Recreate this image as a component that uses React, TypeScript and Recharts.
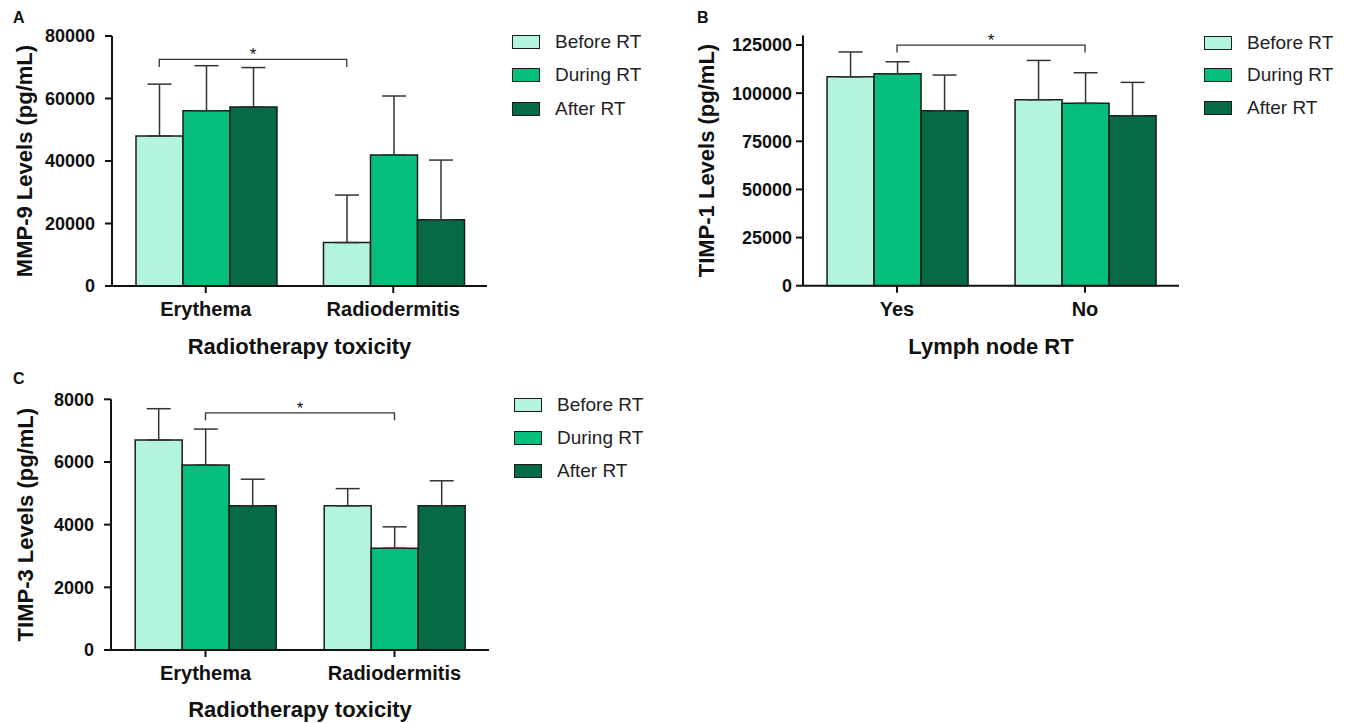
import { Bar, BarChart, ErrorBar, Legend, ReferenceLine, XAxis, YAxis } from 'recharts';

const PHASES = ['Before RT', 'During RT', 'After RT'];
const PHASE_KEYS = ['before', 'during', 'after'];
const PHASE_COLORS = ['#b3f5dc', '#05be7b', '#066b45'];

// A: MMP-9 by radiotherapy toxicity
const TOX_CATS = ['Erythema', 'Radiodermitis'];
const MMP9_BEFORE = [48000, 13900];
const MMP9_DURING = [56100, 41900];
const MMP9_AFTER = [57300, 21200];
const MMP9_BEFORE_SD = [16600, 15200];
const MMP9_DURING_SD = [14400, 18900];
const MMP9_AFTER_SD = [12600, 19100];
const MMP9_TICKS = [0, 20000, 40000, 60000, 80000];

// B: TIMP-1 by lymph node RT
const NODE_CATS = ['Yes', 'No'];
const TIMP1_BEFORE = [108500, 96600];
const TIMP1_DURING = [110100, 94700];
const TIMP1_AFTER = [90900, 88300];
const TIMP1_BEFORE_SD = [12900, 20400];
const TIMP1_DURING_SD = [6200, 15900];
const TIMP1_AFTER_SD = [18500, 17300];
const TIMP1_TICKS = [0, 25000, 50000, 75000, 100000, 125000];

// C: TIMP-3 by radiotherapy toxicity
const TIMP3_BEFORE = [6700, 4600];
const TIMP3_DURING = [5900, 3250];
const TIMP3_AFTER = [4600, 4600];
const TIMP3_BEFORE_SD = [1000, 550];
const TIMP3_DURING_SD = [1150, 680];
const TIMP3_AFTER_SD = [850, 800];
const TIMP3_TICKS = [0, 2000, 4000, 6000, 8000];

const INK = '#111';
const EDGE = '#1c1c1c';
const WHISKER = '#333';
const GAP = 0.128;
const BAR_W = (1 - 2 * GAP) / 3;
const AXIS = { stroke: INK, strokeWidth: 2 };

function buildRows(cats: string[], vals: number[][], sds: number[][]) {
  return cats.map((cat, i) => {
    const row: Record<string, unknown> = { cat };
    PHASE_KEYS.forEach((k, j) => {
      row[k] = vals[j][i];
      row[k + 'Err'] = [0, sds[j][i]];
    });
    return row;
  });
}

const rowsA = buildRows(TOX_CATS, [MMP9_BEFORE, MMP9_DURING, MMP9_AFTER], [MMP9_BEFORE_SD, MMP9_DURING_SD, MMP9_AFTER_SD]);
const rowsB = buildRows(NODE_CATS, [TIMP1_BEFORE, TIMP1_DURING, TIMP1_AFTER], [TIMP1_BEFORE_SD, TIMP1_DURING_SD, TIMP1_AFTER_SD]);
const rowsC = buildRows(TOX_CATS, [TIMP3_BEFORE, TIMP3_DURING, TIMP3_AFTER], [TIMP3_BEFORE_SD, TIMP3_DURING_SD, TIMP3_AFTER_SD]);

// bar centre as a fraction of the plot width (2 categories)
const barFrac = (cat: number, bar: number) => (cat + 0.5 + (bar - 1) * BAR_W) / 2;

type Sig = { from: [number, number]; to: [number, number]; y: number };

// significance bracket drawn on a horizontal reference line at sig.y
function BracketShape(props: any) {
  const { x1, x2, y1, a, b } = props;
  const left = Math.min(x1, x2);
  const w = Math.abs(x2 - x1);
  const bx1 = left + w * a;
  const bx2 = left + w * b;
  const drop = 7.5;
  return (
    <g>
      <path
        d={`M${bx1},${y1 + drop}V${y1}H${bx2}V${y1 + drop}`}
        fill="none"
        stroke={WHISKER}
        strokeWidth={1.3}
      />
      <text x={(bx1 + bx2) / 2} y={y1 + 1} textAnchor="middle" fontSize={17} fill={INK}>
        *
      </text>
    </g>
  );
}

function PhaseLegend({ payload, width, rowH }: any) {
  const items = [...(payload ?? [])].sort((p, q) => PHASES.indexOf(p.value) - PHASES.indexOf(q.value));
  return (
    <div style={{ width, paddingLeft: 25, boxSizing: 'border-box' }}>
      {items.map((p: any) => (
        <div key={p.value} style={{ display: 'flex', alignItems: 'center', height: rowH }}>
          <span
            style={{
              width: 28,
              height: 14,
              background: p.color,
              border: `1.5px solid ${EDGE}`,
              boxSizing: 'border-box',
            }}
          />
          <span style={{ marginLeft: 15, fontSize: 19, color: '#222' }}>{p.value}</span>
        </div>
      ))}
    </div>
  );
}

type PanelProps = {
  left: number;
  top: number;
  width: number;
  height: number;
  rows: Record<string, unknown>[];
  plotTop: number;
  yAxisWidth: number;
  xAxisHeight: number;
  legendWidth: number;
  legendTop: number;
  rowH: number;
  yMax: number;
  yTicks: number[];
  yTitle: string;
  yTitleX: number;
  yTickMargin: number;
  xTitle: string;
  sig: Sig;
};

function Panel(p: PanelProps) {
  const a = barFrac(...p.sig.from);
  const b = barFrac(...p.sig.to);
  return (
    <div style={{ position: 'absolute', left: p.left, top: p.top }}>
      <BarChart
        width={p.width}
        height={p.height}
        data={p.rows}
        margin={{ top: p.plotTop, right: 0, bottom: 0, left: 0 }}
        barCategoryGap={`${GAP * 100}%`}
        barGap={0}
      >
        <XAxis
          dataKey="cat"
          height={p.xAxisHeight}
          interval={0}
          tickSize={7}
          tickMargin={9}
          axisLine={AXIS}
          tickLine={AXIS}
          tick={{ fontSize: 20, fontWeight: 700, fill: INK }}
          label={{ value: p.xTitle, position: 'insideBottom', offset: 6, fontSize: 22, fontWeight: 700, fill: INK }}
        />
        <YAxis
          width={p.yAxisWidth}
          domain={[0, p.yMax]}
          ticks={p.yTicks}
          interval={0}
          tickSize={7}
          tickMargin={p.yTickMargin}
          axisLine={AXIS}
          tickLine={AXIS}
          tick={{ fontSize: 18, fontWeight: 700, fill: INK }}
          label={{
            value: p.yTitle,
            angle: -90,
            position: 'insideLeft',
            offset: p.yTitleX,
            fontSize: 22,
            fontWeight: 700,
            fill: INK,
            style: { textAnchor: 'middle' },
          }}
        />
        <Legend
          layout="vertical"
          align="right"
          verticalAlign="top"
          wrapperStyle={{ top: p.legendTop }}
          content={(lp: any) => <PhaseLegend payload={lp.payload} width={p.legendWidth} rowH={p.rowH} />}
        />
        {PHASE_KEYS.map((k, i) => (
          <Bar
            key={k}
            dataKey={k}
            name={PHASES[i]}
            fill={PHASE_COLORS[i]}
            stroke={EDGE}
            strokeWidth={1.5}
            isAnimationActive={false}
          >
            <ErrorBar dataKey={k + 'Err'} width={12} stroke={WHISKER} strokeWidth={1.5} direction="y" isAnimationActive={false} />
          </Bar>
        ))}
        <ReferenceLine y={p.sig.y} shape={(sp: any) => <BracketShape {...sp} a={a} b={b} />} />
      </BarChart>
    </div>
  );
}

const letterStyle = { position: 'absolute' as const, fontSize: 16, fontWeight: 700, lineHeight: '16px', color: INK };

export default function App() {
  return (
    <div
      style={{
        position: 'absolute',
        left: 0,
        top: 0,
        width: 1356,
        height: 723,
        background: '#fff',
        fontFamily: '"Liberation Sans", Arial, sans-serif',
      }}
    >
      <Panel
        left={0}
        top={0}
        width={680}
        height={360}
        rows={rowsA}
        plotTop={36}
        yAxisWidth={112}
        xAxisHeight={74}
        legendWidth={193}
        legendTop={25}
        rowH={33.5}
        yMax={80000}
        yTicks={MMP9_TICKS}
        yTitle="MMP-9 Levels (pg/mL)"
        yTitleX={24}
        yTickMargin={10}
        xTitle="Radiotherapy toxicity"
        sig={{ from: [0, 0], to: [1, 0], y: 72500 }}
      />
      <Panel
        left={680}
        top={0}
        width={676}
        height={360}
        rows={rowsB}
        plotTop={35.4}
        yAxisWidth={123}
        xAxisHeight={74.3}
        legendWidth={177}
        legendTop={26.5}
        rowH={32.5}
        yMax={130000}
        yTicks={TIMP1_TICKS}
        yTitle="TIMP-1 Levels (pg/mL)"
        yTitleX={26}
        yTickMargin={4}
        xTitle="Lymph node RT"
        sig={{ from: [0, 1], to: [1, 1], y: 125000 }}
      />
      <Panel
        left={0}
        top={360}
        width={680}
        height={363}
        rows={rowsC}
        plotTop={39.3}
        yAxisWidth={111}
        xAxisHeight={73}
        legendWidth={191}
        legendTop={28.5}
        rowH={33}
        yMax={8000}
        yTicks={TIMP3_TICKS}
        yTitle="TIMP-3 Levels (pg/mL)"
        yTitleX={25}
        yTickMargin={10}
        xTitle="Radiotherapy toxicity"
        sig={{ from: [0, 1], to: [1, 1], y: 7570 }}
      />
      <div style={{ ...letterStyle, left: 13, top: 10 }}>A</div>
      <div style={{ ...letterStyle, left: 697, top: 10 }}>B</div>
      <div style={{ ...letterStyle, left: 13, top: 371 }}>C</div>
    </div>
  );
}
